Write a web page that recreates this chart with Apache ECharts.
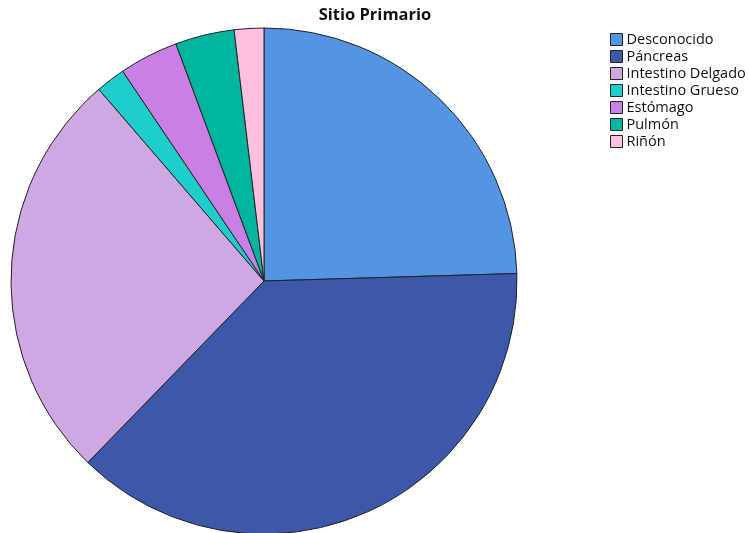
<!DOCTYPE html>
<html>
<head>
<meta charset="utf-8">
<script src="https://cdn.jsdelivr.net/npm/echarts@6/dist/echarts.min.js"></script>
<style>
  html, body { margin: 0; padding: 0; background: #fff; }
  #chart { width: 749px; height: 533px; }
</style>
</head>
<body>
<div id="chart"></div>
<script>
// Primary site counts (clockwise from 12 o'clock)
const categories = ['Desconocido', 'Páncreas', 'Intestino Delgado', 'Intestino Grueso', 'Estómago', 'Pulmón', 'Riñón'];
const counts = [13, 20, 14, 1, 2, 2, 1];
const colors = ['#5394E3', '#3D58A8', '#CFA8E3', '#1FCECB', '#C97FE5', '#00B5A0', '#FFC0DD'];

const chart = echarts.init(document.getElementById('chart'), null, { renderer: 'canvas' });

chart.setOption({
  animation: false,
  title: {
    text: 'Sitio Primario',
    left: 375,
    top: 7,
    padding: 0,
    textAlign: 'center',
    textStyle: { fontFamily: 'Open Sans', fontWeight: 'bold', fontSize: 16.5, color: '#111' }
  },
  legend: {
    orient: 'vertical',
    left: 610,
    top: 32,
    padding: 0,
    itemWidth: 12,
    itemHeight: 12,
    itemGap: 2,
    icon: 'rect',
    data: categories,
    textStyle: { fontFamily: 'Open Sans', fontSize: 14.5, color: '#111', padding: [0, 0, 0, -1] },
    itemStyle: { borderColor: '#222', borderWidth: 1 }
  },
  series: [{
    type: 'pie',
    center: [264, 281],
    radius: 253,
    startAngle: 90,
    clockwise: true,
    label: { show: false },
    labelLine: { show: false },
    emphasis: { disabled: true },
    itemStyle: { borderColor: '#222', borderWidth: 1 },
    data: categories.map((name, i) => ({
      name: name,
      value: counts[i],
      itemStyle: { color: colors[i] }
    }))
  }]
});
</script>
</body>
</html>
